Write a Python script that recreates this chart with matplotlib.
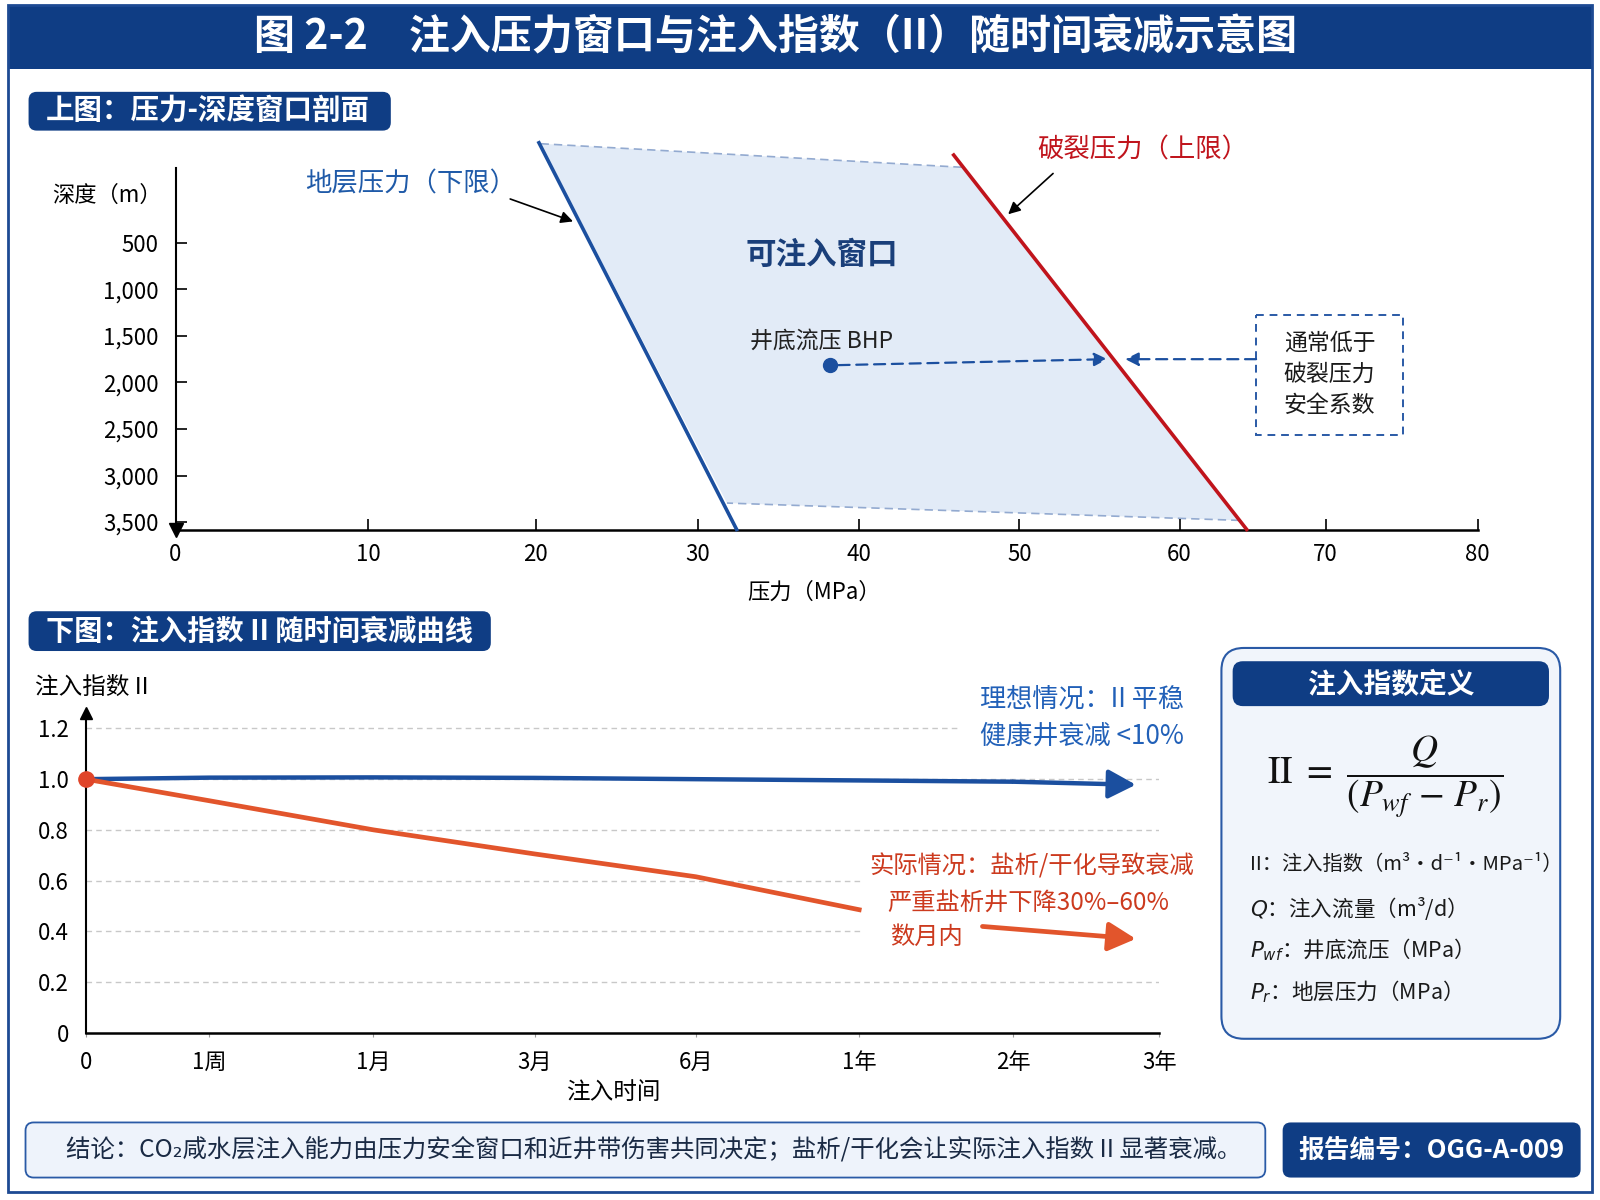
import matplotlib
matplotlib.use('agg')
import numpy as np
import matplotlib.pyplot as plt
from matplotlib.patches import FancyBboxPatch, Rectangle, Polygon

plt.rcParams['font.family'] = ['Noto Sans CJK SC', 'DejaVu Sans']
plt.rcParams['mathtext.fontset'] = 'dejavusans'
plt.rcParams['axes.unicode_minus'] = False

# ---- 数据 ----
# 上图：压力-深度
pressure_ticks = [0, 10, 20, 30, 40, 50, 60, 70, 80]
depth_ticks = [500, 1000, 1500, 2000, 2500, 3000, 3500]
depth_labels = ['500', '1,000', '1,500', '2,000', '2,500', '3,000', '3,500']

formation_p = [20.2, 32.4]      # 地层压力（下限）
formation_d = [-575, 3580]
frac_p = [45.9, 64.6]           # 破裂压力（上限）
frac_d = [-443, 3580]
window_p = [20.3, 46.5, 64.1, 31.8]   # 可注入窗口
window_d = [-565, -311, 3482, 3296]
bhp_p, bhp_d = 38.2, 1816       # 井底流压
bhp_target_p, bhp_target_d = 55.5, 1750
sf_target_p = 56.6

# 下图：注入指数随时间
time_labels = ['0', '1周', '1月', '3月', '6月', '1年', '2年', '3年']
ii_ticks = [0, 0.2, 0.4, 0.6, 0.8, 1.0, 1.2]
ii_labels = ['0', '0.2', '0.4', '0.6', '0.8', '1.0', '1.2']
ideal_t = [0, 1, 2, 3, 4, 5, 6, 6.84]
ideal_ii = [1.0, 1.006, 1.007, 1.005, 1.0, 0.995, 0.99, 0.978]
actual_t = [0, 1, 2, 3, 4, 5]
actual_ii = [1.0, 0.915, 0.80, 0.705, 0.615, 0.485]
decline_t = [5.80, 6.84]
decline_ii = [0.419, 0.37]

# ---- 版式（像素坐标）----
W, H = 1568, 1176
pressure_px = [172, 361, 525, 684, 842, 999, 1156, 1299, 1448]
time_px = [84, 205, 366, 524, 682, 842, 993, 1136]

NAVY = '#0f3d84'
BLUE = '#1b4f9f'
RED = '#c0141c'
ORANGE = '#e2552c'
EDGE = '#2a5aa6'

fig = plt.figure(figsize=(16, 12), dpi=100)

# 背景画布
cv = fig.add_axes([0, 0, 1, 1], zorder=0)
cv.set_xlim(0, W)
cv.set_ylim(H, 0)
cv.axis('off')


def pill(x, y, w, h, r, fc, ec='none', lw=0):
    cv.add_patch(FancyBboxPatch((x, y), w, h, boxstyle=f'round,pad=0,rounding_size={r}',
                                fc=fc, ec=ec, lw=lw))


cv.add_patch(Rectangle((8, 5), 1552, 63, fc=NAVY, ec='none'))
cv.add_patch(Rectangle((8, 5), 1552, 1163, fc='none', ec='#1d4a93', lw=2))
cv.text(760, 37, '图 2-2　注入压力窗口与注入指数（II）随时间衰减示意图', color='white',
        fontsize=29.5, fontweight='bold', ha='center', va='center')

pill(28, 90, 355, 38, 8, NAVY)
cv.text(45, 109, '上图：压力-深度窗口剖面', color='white', fontsize=20.5,
        fontweight='bold', va='center')
pill(28, 599, 453, 39, 8, NAVY)
cv.text(45, 619, '下图：注入指数 II 随时间衰减曲线', color='white', fontsize=20.3,
        fontweight='bold', va='center')

# 定义框
pill(1197, 635, 332, 383, 22, '#f1f5fb', EDGE, 1.5)
pill(1208, 648, 310, 44, 10, NAVY)
cv.text(1363, 671, '注入指数定义', color='white', fontsize=20, fontweight='bold',
        ha='center', va='center')
cv.text(1357, 762, r'$\mathrm{II}\ =\ \dfrac{Q}{(P_{wf}\,-\,P_r)}$', fontsize=27,
        math_fontfamily='stix', ha='center', va='center', color='#111111')
cv.text(1225, 847, 'II：注入指数（m³·d⁻¹·MPa⁻¹）', fontsize=14.6, va='center', color='#1a1a1a')
defs = [r'$Q$：注入流量（m³/d）', r'$P_{wf}$：井底流压（MPa）', r'$P_r$：地层压力（MPa）']
for s, yy in zip(defs, [890, 931, 972]):
    cv.text(1225, yy, s, fontsize=15.5, va='center', color='#1a1a1a')

# 结论与编号
pill(25, 1100, 1215, 54, 8, '#eef3fb', EDGE, 1.3)
cv.text(65, 1127, '结论：CO₂咸水层注入能力由压力安全窗口和近井带伤害共同决定；盐析/干化会让实际注入指数 II 显著衰减。',
        fontsize=17.6, va='center', color='#1a2a44')
pill(1257, 1100, 292, 54, 8, NAVY)
cv.text(1403, 1127, '报告编号：OGG-A-009', color='white', fontsize=18.5,
        fontweight='bold', ha='center', va='center')

# ---- 上图 ----
ax1 = fig.add_axes([172 / W, 1 - 519 / H, (1448 - 172) / W, (519 - 165) / H], zorder=1)
ax1.set_facecolor('none')
ax1.set_xscale('function', functions=(lambda v: np.interp(v, pressure_ticks, pressure_px),
                                      lambda p: np.interp(p, pressure_px, pressure_ticks)))
ax1.set_xlim(0, 80)
ax1.set_ylim(3581, -300)
for s in ['top', 'right']:
    ax1.spines[s].set_visible(False)
ax1.spines['left'].set_linewidth(1.5)
ax1.spines['bottom'].set_linewidth(1.8)
ax1.set_xticks(pressure_ticks)
ax1.set_yticks(depth_ticks, depth_labels)
ax1.tick_params(axis='x', direction='in', length=8, width=1.2, pad=10, labelsize=16)
ax1.tick_params(axis='y', direction='in', length=8, width=1.2, pad=12, labelsize=16)
ax1.plot([0], [3581], marker='v', color='black', markersize=10, clip_on=False)

ax1.add_patch(Polygon(list(zip(window_p, window_d)), closed=True, fc='#e2ebf7',
                      ec='none', clip_on=False, zorder=1))
ax1.plot(window_p[:2], window_d[:2], ls=(0, (5, 3)), color='#93aad0', lw=1.2, clip_on=False, zorder=1.5)
ax1.plot(window_p[2:], window_d[2:], ls=(0, (5, 3)), color='#93aad0', lw=1.2, clip_on=False, zorder=1.5)
ax1.plot(formation_p, formation_d, color=BLUE, lw=2.6, clip_on=False, zorder=3)
ax1.plot(frac_p, frac_d, color=RED, lw=2.6, clip_on=False, zorder=3)

T = cv.transData
ax1.text(402, 180, '地层压力（下限）', transform=T, color='#1f5aa8', fontsize=19,
         ha='center', va='center')
ax1.annotate('', xy=(22.3, 270), xytext=(500, 195), textcoords=T,
             arrowprops=dict(arrowstyle='-|>', color='black', lw=1.2, mutation_scale=18,
                             shrinkA=0, shrinkB=0))
ax1.text(1120, 147, '破裂压力（上限）', transform=T, color=RED, fontsize=19,
         ha='center', va='center')
ax1.annotate('', xy=(49.3, 193), xytext=(1032, 170), textcoords=T,
             arrowprops=dict(arrowstyle='-|>', color='black', lw=1.2, mutation_scale=18,
                             shrinkA=0, shrinkB=0))
ax1.text(805, 250, '可注入窗口', transform=T, color='#1a3f7a', fontsize=22,
         fontweight='bold', ha='center', va='center')
ax1.text(805, 334, '井底流压 BHP', transform=T, color='#222222', fontsize=16.5,
         ha='center', va='center')
ax1.plot([bhp_p], [bhp_d], 'o', color=BLUE, markersize=10, zorder=4)
ax1.annotate('', xy=(bhp_target_p, bhp_target_d), xytext=(bhp_p, bhp_d),
             arrowprops=dict(arrowstyle='-|>', color=BLUE, lw=1.6, ls=(0, (5, 3)),
                             mutation_scale=20, shrinkA=6, shrinkB=0))
cv.add_patch(Rectangle((1231, 309), 144, 117, fc='white', ec=EDGE, lw=1.4, ls=(0, (4, 3))))
ax1.text(1303, 367, '通常低于\n破裂压力\n安全系数', transform=T, color='#1a1a1a',
         fontsize=16.5, ha='center', va='center', linespacing=1.45)
ax1.annotate('', xy=(sf_target_p, bhp_target_d), xytext=(1231, 352), textcoords=T,
             arrowprops=dict(arrowstyle='-|>', color=BLUE, lw=1.6, ls=(0, (5, 3)),
                             mutation_scale=20, shrinkA=0, shrinkB=0))
ax1.text(105, 191, '深度（m）', transform=T, fontsize=16, ha='center', va='center')
ax1.text(798, 580, '压力（MPa）', transform=T, fontsize=16, ha='center', va='center')

# ---- 下图 ----
time_idx = list(range(len(time_labels)))
ax2 = fig.add_axes([84 / W, 1 - 1012 / H, (1136 - 84) / W, (1012 - 699) / H], zorder=1)
ax2.set_facecolor('none')
ax2.set_xscale('function', functions=(lambda v: np.interp(v, time_idx, time_px),
                                      lambda p: np.interp(p, time_px, time_idx)))
ax2.set_xlim(0, 7)
ax2.set_ylim(0, 1.26)
for s in ['top', 'right']:
    ax2.spines[s].set_visible(False)
ax2.spines['left'].set_linewidth(1.5)
ax2.spines['bottom'].set_linewidth(1.8)
ax2.set_xticks(time_idx, time_labels)
ax2.set_yticks(ii_ticks, ii_labels)
ax2.tick_params(axis='x', length=3, color='#999999', pad=10, labelsize=16)
ax2.tick_params(axis='y', length=0, pad=12, labelsize=16)
ax2.plot([0], [1.26], marker='^', color='black', markersize=9, clip_on=False)
for y in ii_ticks[1:]:
    ax2.axhline(y, color='#c8c8c8', lw=1, ls=(0, (4, 3)), zorder=0.5)

# 文本区域遮盖网格线
ax2.add_patch(Rectangle((940, 666), 230, 76, transform=T, fc='white', ec='none', zorder=1))
ax2.add_patch(Rectangle((846, 832), 332, 104, transform=T, fc='white', ec='none', zorder=1))

head = '-|>,head_length=0.8,head_width=0.42'
ax2.plot(ideal_t[:-1], ideal_ii[:-1], color=BLUE, lw=3.2, zorder=3, solid_capstyle='butt')
ax2.annotate('', xy=(ideal_t[-1], ideal_ii[-1]), xytext=(ideal_t[-2], ideal_ii[-2]),
             arrowprops=dict(arrowstyle=head, color=BLUE, lw=3.2, mutation_scale=21,
                             shrinkA=0, shrinkB=0))
ax2.plot(actual_t, actual_ii, color=ORANGE, lw=3.4, zorder=3, solid_joinstyle='round')
ax2.annotate('', xy=(decline_t[1], decline_ii[1]), xytext=(decline_t[0], decline_ii[0]),
             arrowprops=dict(arrowstyle=head, color=ORANGE, lw=3.4, mutation_scale=21,
                             shrinkA=0, shrinkB=0), zorder=4)
ax2.plot([0], [1.0], 'o', color='#e0452a', markersize=11, clip_on=False, zorder=5)

ax2.text(1160, 685, '理想情况：II 平稳', transform=T, color='#2160b8', fontsize=18.8,
         ha='right', va='center', zorder=4)
ax2.text(1160, 722, '健康井衰减 <10%', transform=T, color='#2160b8', fontsize=18.8,
         ha='right', va='center', zorder=4)
ax2.text(1011, 849, '实际情况：盐析/干化导致衰减', transform=T, color='#cc3a1e',
         fontsize=17.5, ha='center', va='center', zorder=4)
ax2.text(1008, 885, '严重盐析井下降30%–60%', transform=T, color='#cc3a1e',
         fontsize=17.5, ha='center', va='center', zorder=4)
ax2.text(872, 918, '数月内', transform=T, color='#cc3a1e', fontsize=17.5,
         ha='left', va='center', zorder=4)
ax2.text(34, 674, '注入指数 II', transform=T, fontsize=17, ha='left', va='center')
ax2.text(601, 1071, '注入时间', transform=T, fontsize=17, ha='center', va='center')

fig.savefig('out.png', dpi=100, facecolor='white')
